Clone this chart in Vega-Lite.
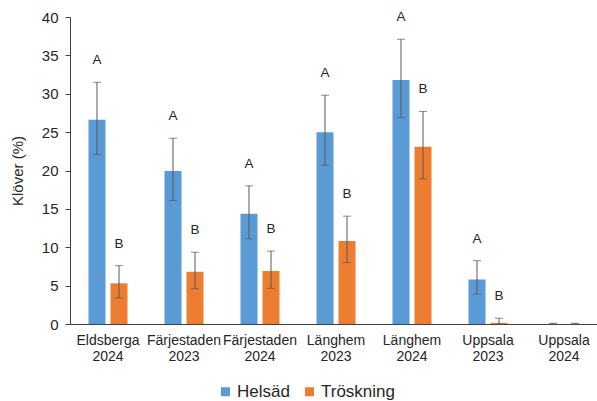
{
  "$schema": "https://vega.github.io/schema/vega-lite/v6.json",
  "autosize": {"type": "none"},
  "padding": {"left": 70, "top": 17, "right": 0, "bottom": 77},
  "width": 532,
  "height": 307,
  "background": "white",
  "data": {
    "values": [
      {"site": "Eldsberga 2024", "treatment": "Helsäd", "value": 26.6, "lo": 22.1, "hi": 31.5, "letter": "A"},
      {"site": "Eldsberga 2024", "treatment": "Tröskning", "value": 5.3, "lo": 3.4, "hi": 7.6, "letter": "B"},
      {"site": "Färjestaden 2023", "treatment": "Helsäd", "value": 19.95, "lo": 16.1, "hi": 24.2, "letter": "A"},
      {"site": "Färjestaden 2023", "treatment": "Tröskning", "value": 6.8, "lo": 4.6, "hi": 9.35, "letter": "B"},
      {"site": "Färjestaden 2024", "treatment": "Helsäd", "value": 14.35, "lo": 11.1, "hi": 18.0, "letter": "A"},
      {"site": "Färjestaden 2024", "treatment": "Tröskning", "value": 6.9, "lo": 4.65, "hi": 9.5, "letter": "B"},
      {"site": "Länghem 2023", "treatment": "Helsäd", "value": 25.0, "lo": 20.7, "hi": 29.8, "letter": "A"},
      {"site": "Länghem 2023", "treatment": "Tröskning", "value": 10.8, "lo": 8.0, "hi": 14.05, "letter": "B"},
      {"site": "Länghem 2024", "treatment": "Helsäd", "value": 31.8, "lo": 26.9, "hi": 37.1, "letter": "A"},
      {"site": "Länghem 2024", "treatment": "Tröskning", "value": 23.1, "lo": 18.9, "hi": 27.7, "letter": "B"},
      {"site": "Uppsala 2023", "treatment": "Helsäd", "value": 5.8, "lo": 3.9, "hi": 8.25, "letter": "A"},
      {"site": "Uppsala 2023", "treatment": "Tröskning", "value": 0.15, "lo": 0.0, "hi": 0.75, "letter": "B"},
      {"site": "Uppsala 2024", "treatment": "Helsäd", "value": 0.0, "lo": 0.0, "hi": 0.1, "letter": ""},
      {"site": "Uppsala 2024", "treatment": "Tröskning", "value": 0.0, "lo": 0.0, "hi": 0.1, "letter": ""}
    ]
  },
  "encoding": {
    "x": {
      "field": "site", "type": "nominal", "sort": null,
      "scale": {"paddingInner": 0, "paddingOuter": 0},
      "axis": {
        "title": null, "labelAngle": 0, "ticks": false,
        "labelExpr": "split(datum.label, ' ')",
        "labelFontSize": 14, "labelLineHeight": 16, "labelPadding": 9,
        "labelOverlap": false, "labelFlush": false, "labelBound": false,
        "domainColor": "#404040", "labelColor": "#262626", "labelFont": "Liberation Sans"
      }
    },
    "xOffset": {
      "field": "treatment", "type": "nominal",
      "scale": {"paddingInner": 0.227, "paddingOuter": 0.84}
    }
  },
  "layer": [
    {
      "mark": {"type": "bar"},
      "encoding": {
        "y": {
          "field": "value", "type": "quantitative",
          "scale": {"domain": [0, 40], "nice": false},
          "axis": {"title": "Klöver (%)", "values": [0, 5, 10, 15, 20, 25, 30, 35, 40]}
        },
        "color": {
          "field": "treatment", "type": "nominal",
          "scale": {"domain": ["Helsäd", "Tröskning"], "range": ["#5B9BD5", "#ED7D31"]},
          "legend": {
            "title": null, "orient": "none", "direction": "horizontal",
            "legendX": 147, "legendY": 366,
            "symbolType": "square", "symbolSize": 81, "symbolStrokeWidth": 0,
            "labelFontSize": 17, "labelFont": "Liberation Sans", "labelColor": "#262626",
            "columnPadding": 11, "labelOffset": 3
          }
        }
      }
    },
    {
      "mark": {"type": "rule", "color": "#595959", "strokeWidth": 1},
      "encoding": {
        "y": {"field": "lo", "type": "quantitative", "axis": {"title": "Klöver (%)", "values": [0, 5, 10, 15, 20, 25, 30, 35, 40]}},
        "y2": {"field": "hi"}
      }
    },
    {
      "mark": {"type": "tick", "color": "#595959", "thickness": 1, "size": 8},
      "encoding": {"y": {"field": "lo", "type": "quantitative", "axis": {"title": "Klöver (%)", "values": [0, 5, 10, 15, 20, 25, 30, 35, 40]}}}
    },
    {
      "mark": {"type": "tick", "color": "#595959", "thickness": 1, "size": 8},
      "encoding": {"y": {"field": "hi", "type": "quantitative", "axis": {"title": "Klöver (%)", "values": [0, 5, 10, 15, 20, 25, 30, 35, 40]}}}
    },
    {
      "transform": [{"filter": "datum.letter != ''"}],
      "mark": {"type": "text", "dy": -22, "fontSize": 13.5, "font": "Liberation Sans", "color": "#262626", "baseline": "middle"},
      "encoding": {
        "y": {"field": "hi", "type": "quantitative", "axis": {"title": "Klöver (%)", "values": [0, 5, 10, 15, 20, 25, 30, 35, 40]}},
        "text": {"field": "letter"}
      }
    }
  ],
  "config": {
    "view": {"stroke": null},
    "axisY": {
      "grid": false, "tickSize": 5, "labelPadding": 7,
      "labelOverlap": false, "labelFlush": false, "labelBound": false,
      "labelFontSize": 15, "titleFontSize": 15, "titleFontWeight": "normal",
      "titleFont": "Liberation Sans", "labelFont": "Liberation Sans",
      "titleColor": "#262626", "labelColor": "#262626",
      "domainColor": "#404040", "tickColor": "#404040", "titlePadding": 16
    }
  }
}
